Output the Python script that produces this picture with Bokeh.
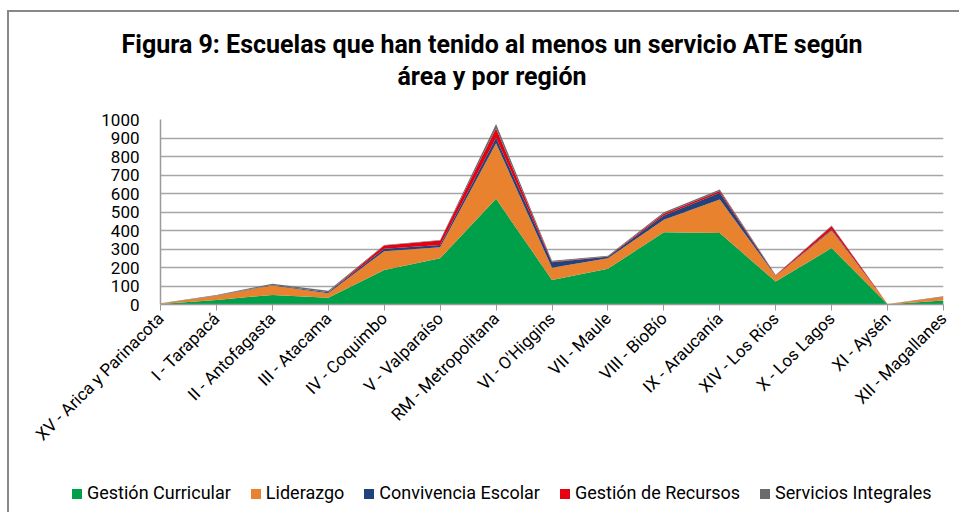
from bokeh.plotting import figure
from bokeh.layouts import column
from bokeh.models import ColumnDataSource, Range1d, Div, FixedTicker
from bokeh.embed import file_html
from bokeh.resources import INLINE
import math

regions = ["XV - Arica y Parinacota", "I - Tarapacá", "II - Antofagasta", "III - Atacama",
           "IV - Coquimbo", "V - Valparaíso", "RM - Metropolitana", "VI - O'Higgins",
           "VII - Maule", "VIII - BioBío", "IX - Araucanía", "XIV - Los Ríos",
           "X - Los Lagos", "XI - Aysén", "XII - Magallanes"]

gestion_curricular = [3, 25, 52, 36, 187, 250, 571, 133, 193, 391, 386, 124, 305, 2, 22]
liderazgo = [3, 22, 51, 25, 101, 60, 300, 65, 57, 67, 182, 30, 95, 1, 18]
convivencia_escolar = [0, 1, 3, 5, 13, 12, 30, 30, 8, 23, 36, 2, 5, 0, 1]
gestion_recursos = [0, 0, 0, 0, 18, 24, 50, 3, 2, 9, 9, 2, 18, 0, 1]
servicios_integrales = [1, 3, 6, 8, 3, 3, 25, 5, 4, 9, 9, 2, 4, 0, 2]

series_names = ["Gestión Curricular", "Liderazgo", "Convivencia Escolar",
                "Gestión de Recursos", "Servicios Integrales"]
series_keys = ["gc", "li", "ce", "gr", "si"]
colors = ["#00a04a", "#e8822f", "#22427a", "#e60012", "#6b6b6b"]

title_line1 = "Figura 9: Escuelas que han tenido al menos un servicio ATE según"
title_line2 = "área y por región"

y_ticks = list(range(0, 1001, 100))

src = ColumnDataSource(dict(
    x=list(range(len(regions))),
    gc=gestion_curricular, li=liderazgo, ce=convivencia_escolar,
    gr=gestion_recursos, si=servicios_integrales,
))

FONT = "Roboto"
W = 950

# ---- title ----
title_html = (
    '<div style="width:%dpx;box-sizing:border-box;text-align:center;font-family:Roboto;'
    'font-weight:bold;font-size:25px;line-height:32px;padding-top:17px;padding-left:16px;'
    'color:#000000;white-space:nowrap">%s<br>%s</div>' % (W, title_line1, title_line2)
)
tdiv = Div(text=title_html, width=W, height=95, margin=0)

# ---- main chart ----
p = figure(width=W, height=365, output_backend="svg", toolbar_location=None,
           x_range=Range1d(0, len(regions) - 1), y_range=Range1d(0, 1000),
           min_border_left=151, min_border_right=16, min_border_top=12,
           min_border_bottom=168)

renderers = p.varea_stack(stackers=series_keys, x="x", color=colors, source=src)

p.xaxis.ticker = FixedTicker(ticks=list(range(len(regions))))
p.xaxis.major_label_overrides = {i: r for i, r in enumerate(regions)}
p.xaxis.major_label_orientation = math.pi / 4
p.xaxis.major_label_text_font = FONT
p.xaxis.major_label_text_font_size = "17px"
p.xaxis.major_label_text_color = "#000000"
p.xaxis.axis_line_color = "#9a9a9a"
p.xaxis.axis_line_width = 1.5
p.xaxis.major_tick_line_color = "#9a9a9a"
p.xaxis.major_tick_out = 6
p.xaxis.major_tick_in = 0
p.xaxis.minor_tick_line_color = None

p.yaxis.ticker = FixedTicker(ticks=y_ticks)
p.yaxis.major_label_text_font = FONT
p.yaxis.major_label_text_font_size = "17px"
p.yaxis.major_label_text_color = "#000000"
p.yaxis.axis_line_color = "#9a9a9a"
p.yaxis.axis_line_width = 1.5
p.yaxis.major_tick_line_color = None
p.yaxis.minor_tick_line_color = None
p.yaxis.major_label_standoff = 15

p.xgrid.grid_line_color = None
p.ygrid.grid_line_color = "#a6a6a6"
p.ygrid.grid_line_width = 1.5
p.outline_line_color = None

# ---- legend ----
items_html = '<span style="display:inline-block;width:20px"></span>'.join(
    '<span style="display:inline-block;width:10px;height:10px;background:%s;'
    'vertical-align:middle;margin-right:5px"></span>%s' % (c, n)
    for n, c in zip(series_names, colors)
)
legend_html = (
    '<div style="font-family:Roboto;font-size:18px;line-height:22px;padding-top:10px;'
    'padding-left:63px;color:#000000;white-space:nowrap">%s</div>' % items_html
)
ldiv = Div(text=legend_html, width=W, height=40, margin=0)

layout = column(tdiv, p, ldiv, spacing=0,
                styles={"margin-top": "10px", "margin-left": "7px",
                        "border-top": "2px solid #888888", "border-left": "2px solid #888888"})

open("out.html", "w").write(file_html(layout, INLINE))
